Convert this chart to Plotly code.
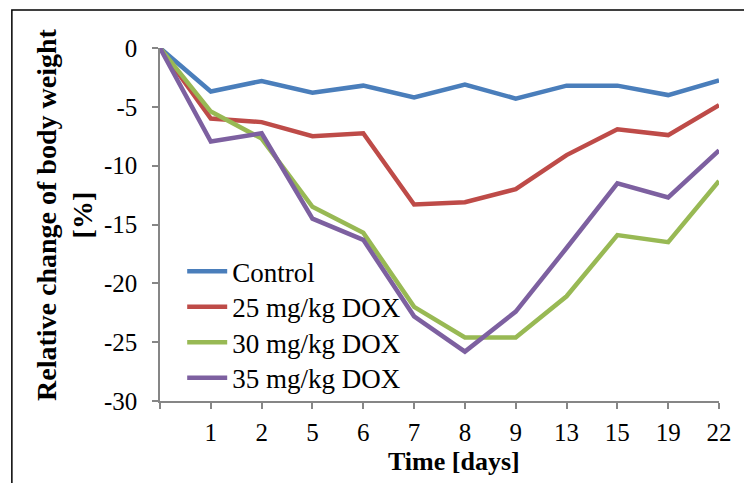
import plotly.graph_objects as go

# Days after treatment start (category axis) and their tick labels
days = ["0", "1", "2", "5", "6", "7", "8", "9", "13", "15", "19", "22"]
tick_labels = ["", "1", "2", "5", "6", "7", "8", "9", "13", "15", "19", "22"]

# Y axis ticks, written with a plain hyphen as the minus sign
y_ticks = [0, -5, -10, -15, -20, -25, -30]
y_tick_labels = ["0", "-5", "-10", "-15", "-20", "-25", "-30"]

# Relative change of body weight [%]
control = [0, -3.7, -2.8, -3.8, -3.2, -4.2, -3.1, -4.3, -3.2, -3.2, -4.0, -2.75]
dox_25 = [0, -6.0, -6.3, -7.5, -7.25, -13.3, -13.1, -12.0, -9.1, -6.9, -7.4, -4.85]
dox_30 = [0, -5.4, -7.7, -13.5, -15.7, -22.0, -24.6, -24.6, -21.1, -15.9, -16.5, -11.3]
dox_35 = [0, -7.95, -7.25, -14.5, -16.3, -22.8, -25.8, -22.4, -17.0, -11.5, -12.7, -8.7]

series = [
    ("Control", control, "#4A7EBB"),
    ("25 mg/kg DOX", dox_25, "#BE4B48"),
    ("30 mg/kg DOX", dox_30, "#98B954"),
    ("35 mg/kg DOX", dox_35, "#7D60A0"),
]

FONT = "Liberation Serif, Times New Roman, serif"
AXIS_GREY = "#868686"

# One legend box per series so the rows can sit at an even, tight pitch
legend_ids = ["legend", "legend2", "legend3", "legend4"]
legend_tops = [0.4357, 0.3351, 0.2346, 0.1340]

fig = go.Figure()
for (name, values, color), lid in zip(series, legend_ids):
    fig.add_trace(go.Scatter(
        x=days, y=values, name=name, mode="lines",
        legend=lid,
        line=dict(color=color, width=4.5),
    ))

legend_style = dict(
    x=0.0397, xanchor="left", yanchor="top",
    bgcolor="rgba(0,0,0,0)", borderwidth=0,
    font=dict(family=FONT, size=27, color="black"),
    itemwidth=40,
)
legends = {lid: dict(legend_style, y=top) for lid, top in zip(legend_ids, legend_tops)}

fig.update_layout(
    width=744, height=483,
    margin=dict(l=160, r=18, t=48, b=82),
    paper_bgcolor="white", plot_bgcolor="white",
    font=dict(family=FONT, color="black", size=25),
    showlegend=True,
    **legends,
    xaxis=dict(
        type="category", categoryorder="array", categoryarray=days,
        range=[0, len(days) - 1],
        tickmode="array", tickvals=days, ticktext=tick_labels,
        ticks="outside", ticklen=6, tickwidth=1.5, tickcolor=AXIS_GREY,
        showline=True, linecolor=AXIS_GREY, linewidth=1.5,
        showgrid=False, zeroline=False, ticklabelstandoff=2,
        tickfont=dict(family=FONT, size=25, color="black"),
    ),
    yaxis=dict(
        range=[-30, 0],
        tickmode="array", tickvals=y_ticks, ticktext=y_tick_labels,
        ticks="outside", ticklen=6, tickwidth=1.5, tickcolor=AXIS_GREY,
        showline=True, linecolor=AXIS_GREY, linewidth=1.5,
        showgrid=False, zeroline=False, ticklabelstandoff=10,
        tickfont=dict(family=FONT, size=25, color="black"),
    ),
)

# Axis titles
fig.add_annotation(
    text="<b>Time [days]</b>", xref="paper", yref="paper",
    x=0.5265, y=-0.17, xanchor="center", yanchor="middle",
    showarrow=False, font=dict(family=FONT, size=26, color="black"),
)
fig.add_annotation(
    text="<b>Relative change of body weight<br>[%]</b>", xref="paper", yref="paper",
    x=-0.170, y=0.527, xanchor="center", yanchor="middle", textangle=-90,
    showarrow=False, font=dict(family=FONT, size=28, color="black"),
)

# Chart frame
fig.add_shape(
    type="rect", xref="paper", yref="paper",
    x0=-0.265, x1=1.2, y0=-0.4, y1=1.1076,
    line=dict(color="black", width=1.5), fillcolor="rgba(0,0,0,0)", layer="below",
)

fig.write_html("out.html")
